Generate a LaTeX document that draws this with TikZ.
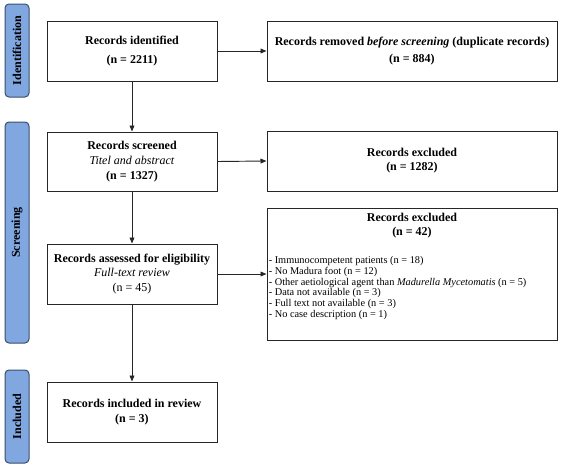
\documentclass[tikz,border=0pt]{standalone}
\usepackage{fontspec}
\setmainfont{Liberation Serif}
\usetikzlibrary{arrows.meta}
\definecolor{barfill}{RGB}{128,167,224}
\definecolor{barline}{RGB}{58,78,108}
\begin{document}
\begin{tikzpicture}[x=0.75pt,y=-0.75pt,
  box/.style={draw=black!85,line width=0.75pt,minimum width=127.5pt,minimum height=45pt,inner sep=0pt,align=center,font=\fontsize{9}{11}\selectfont\bfseries},
  wbox/.style={box,minimum width=217.5pt},
  bar/.style={draw=barline,fill=barfill,line width=0.75pt,rounded corners=3pt,minimum width=18pt,inner sep=0pt},
  bartext/.style={rotate=90,font=\fontsize{9}{11}\selectfont\bfseries},
  arr/.style={line width=0.7pt,draw=black!85,-{Triangle[length=4.5pt,width=3.6pt]}},
  lst/.style={align=left,inner sep=0pt,font=\fontsize{7.75}{8}\selectfont}
]
\useasboundingbox (0,0) rectangle (561,468);
% side bars
\node[bar,minimum height=69.75pt] (b1) at (17,50.5) {};
\node[bartext] (t1) at (b1.center) {Identification};
\node[bar,minimum height=165.75pt] (b2) at (17,232.5) {};
\node[bartext] (t2) at (b2.center) {Screening};
\node[bar,minimum height=69.75pt] (b3) at (17,416.5) {};
\node[bartext] (t3) at (b3.center) {Included};
% boxes
\node[box] (n1) at (132,51) {Records identified\\[2.8pt](n = 2211)};
\node[wbox] (n2) at (412,51) {Records removed \textit{before screening} (duplicate records)\\[1.8pt](n = 884)};
\node[box,minimum height=44.25pt] (n3) at (132,161.5) {Records screened\\\mdseries\textit{Titel and abstract}\\(n = 1327)};
\node[wbox] (n4) at (412,161) {Records excluded\\[-0.5pt](n = 1282)};
\node[box] (n5) at (132,274) {Records assessed for eligibility\\\mdseries\textit{Full-text review}\\\mdseries(n = 45)};
\node[wbox,minimum height=99pt] (n6) at (412,274) {};
\node[inner sep=0pt,align=center,font=\fontsize{9}{11}\selectfont\bfseries] (h6) at (412,225.5) {Records excluded\\(n = 42)};
\node[lst,anchor=west] (l6) at (268.5,288) {- Immunocompetent patients (n = 18)\\
- No Madura foot (n = 12)\\
- Other aetiological agent than \textit{Madurella Mycetomatis} (n = 5)\\
- Data not available (n = 3)\\
- Full text not available (n = 3)\\
- No case description (n = 1)};
\node[box] (n7) at (132,412) {Records included in review\\(n = 3)};
% arrows
\draw[arr] (n1) -- (n2);
\draw[arr] (n3.east) -- (n4.west);
\draw[arr] (n5) -- (n6);
\draw[arr] (n1) -- (n3);
\draw[arr] (n3) -- (n5);
\draw[arr] (n5) -- (n7);
\end{tikzpicture}
\end{document}
